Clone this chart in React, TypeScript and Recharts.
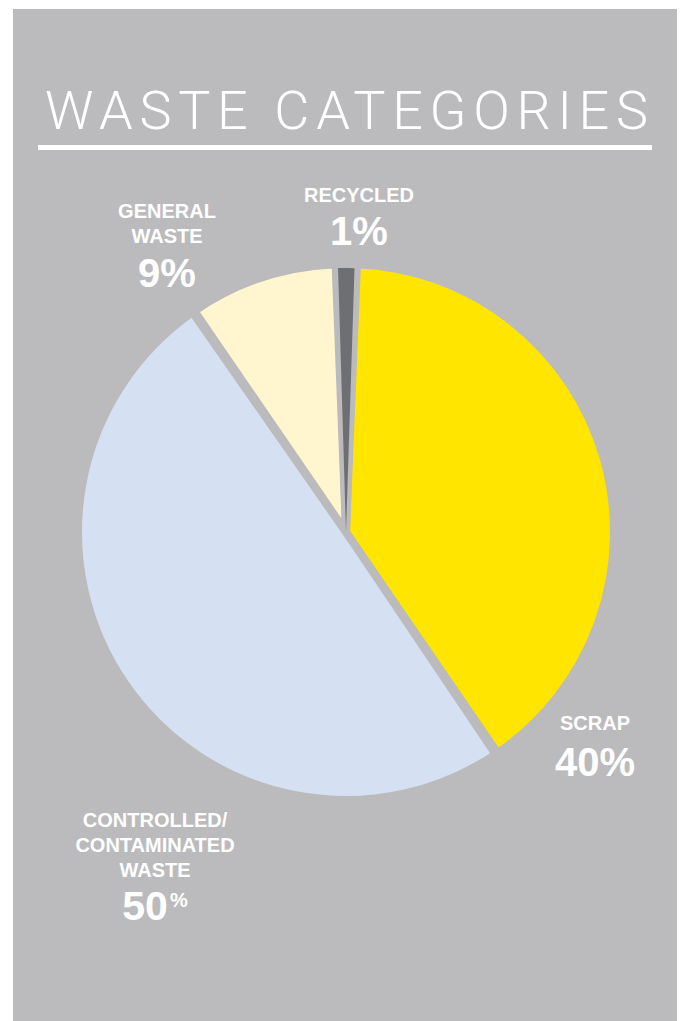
import React from 'react';
import { PieChart, Pie, Cell } from 'recharts';

const categories = ['SCRAP', 'CONTROLLED/ CONTAMINATED WASTE', 'GENERAL WASTE', 'RECYCLED'];
const values = [40, 50, 9, 1];
const labelLines = [['SCRAP'], ['CONTROLLED/', 'CONTAMINATED', 'WASTE'], ['GENERAL', 'WASTE'], ['RECYCLED']];
const colors = ['#ffe500', '#d5e0f2', '#fff6cf', '#6d6f72'];
const title = 'WASTE CATEGORIES';

const labelLayout = [
  { x: 595, y: 730, valueY: 776, sup: false },
  { x: 155, y: 827, valueY: 920, sup: true },
  { x: 167, y: 218, valueY: 287, sup: false },
  { x: 359, y: 202, valueY: 245, sup: false },
];

const PANEL = '#bbbbbd';
const W = 681;
const H = 1021;
const START = 87.65;

const data = categories.map((name, i) => ({ name, value: values[i] }));

export default function App() {
  const font = '"Liberation Sans", Arial, Helvetica, sans-serif';
  return (
    <div style={{ position: 'absolute', left: 0, top: 0, width: W, height: H, background: '#ffffff', overflow: 'hidden' }}>
      <div style={{ position: 'absolute', left: 13, top: 9, width: 664, height: 1012, background: PANEL }} />
      <div style={{ position: 'absolute', left: 0, top: 0 }}>
        <PieChart width={W} height={H} margin={{ top: 0, right: 0, bottom: 0, left: 0 }}>
          <Pie
            data={data}
            dataKey="value"
            nameKey="name"
            cx={346}
            cy={532}
            outerRadius={268}
            innerRadius={0}
            startAngle={START}
            endAngle={START - 360}
            paddingAngle={0.5}
            stroke={PANEL}
            strokeWidth={8}
            label={false}
            labelLine={false}
            isAnimationActive={false}
          >
            {data.map((d, i) => (
              <Cell key={d.name} fill={colors[i]} stroke={PANEL} strokeWidth={8} />
            ))}
          </Pie>
          <Pie
            data={data}
            dataKey="value"
            nameKey="name"
            cx={346}
            cy={532}
            outerRadius={264}
            innerRadius={0}
            startAngle={START}
            endAngle={START - 360}
            paddingAngle={0.5}
            stroke="none"
            label={false}
            labelLine={false}
            isAnimationActive={false}
          >
            {data.map((d, i) => (
              <Cell
                key={d.name}
                fill={i === data.length - 1 ? colors[i] : 'transparent'}
                stroke="none"
                strokeWidth={0}
              />
            ))}
          </Pie>
        </PieChart>
      </div>
      <svg
        width={W}
        height={H}
        style={{ position: 'absolute', left: 0, top: 0, pointerEvents: 'none' }}
      >
        <text
          x={45}
          y={129}
          fill="#ffffff"
          fontFamily='Roboto, "Liberation Sans", sans-serif'
          fontWeight={300}
          fontSize={54}
          textLength={603}
          lengthAdjust="spacing"
        >
          {title}
        </text>
        <rect x={38} y={145} width={614} height={5} fill="#ffffff" />
        {labelLines.map((lines, i) => {
          const lay = labelLayout[i];
          return (
            <g key={categories[i]} fill="#ffffff" fontFamily={font} fontWeight="bold">
              {lines.map((ln, j) => (
                <text key={j} x={lay.x} y={lay.y + j * 25} textAnchor="middle" fontSize={20}>
                  {ln}
                </text>
              ))}
              {lay.sup ? (
                <text x={lay.x} y={lay.valueY} textAnchor="middle" fontSize={41}>
                  <tspan>{values[i]}</tspan>
                  <tspan fontSize={20} dx={2} dy={-13}>%</tspan>
                </text>
              ) : (
                <text x={lay.x} y={lay.valueY} textAnchor="middle" fontSize={40}>
                  {values[i] + '%'}
                </text>
              )}
            </g>
          );
        })}
      </svg>
    </div>
  );
}
